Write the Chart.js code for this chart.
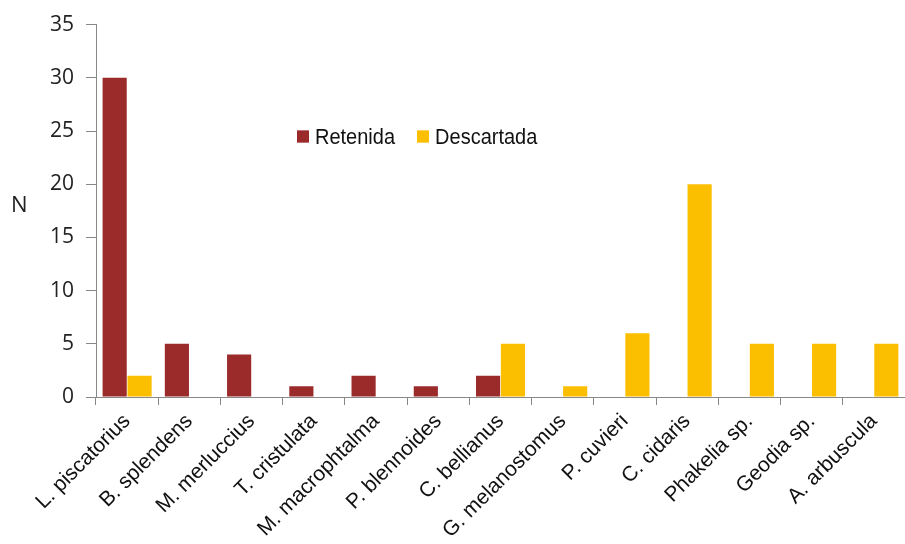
<!DOCTYPE html>
<html>
<head>
<meta charset="utf-8">
<script src="https://cdn.jsdelivr.net/npm/chart.js@4"></script>
<style>
  html, body { margin: 0; padding: 0; background: #fff; }
  #wrap { position: relative; width: 905px; height: 544px; }
  #legend {
    position: absolute; left: 297px; top: 125px;
    font-family: "Liberation Sans", Arial, sans-serif; font-size: 20px; color: #111;
    display: flex; align-items: center;
    transform: scaleY(1.12); transform-origin: left center;
  }
  #legend span.sw { display: inline-block; width: 12px; height: 11px; margin-right: 6px; }
  #legend span.item { display: flex; align-items: center; margin-right: 22px; }
</style>
</head>
<body>
<div id="wrap">
  <canvas id="chart" width="905" height="544"></canvas>
  <div id="legend"></div>
</div>
<script>
const species = [
  "L. piscatorius", "B. splendens", "M. merluccius", "T. cristulata",
  "M. macrophtalma", "P. blennoides", "C. bellianus", "G. melanostomus",
  "P. cuvieri", "C. cidaris", "Phakelia sp.", "Geodia sp.", "A. arbuscula"
];
const retenida   = [30, 5, 4, 1, 2, 1, 2, 0, 0, 0, 0, 0, 0];
const descartada = [2, 0, 0, 0, 0, 0, 5, 1, 6, 20, 5, 5, 5];
const yTicks = [0, 5, 10, 15, 20, 25, 30, 35];

const colors = { Retenida: "#9b2a2b", Descartada: "#fcbf00" };

// draws the unrotated "N" axis title on the left
const yTitle = {
  id: "yTitle",
  afterDraw(chart) {
    const c = chart.ctx;
    c.save();
    c.font = '22px "Open Sans", sans-serif';
    c.fillStyle = "#222";
    c.textBaseline = "middle";
    c.fillText("N", 11, 206);
    c.restore();
  }
};

const chart = new Chart(document.getElementById("chart").getContext("2d"), {
  type: "bar",
  data: {
    labels: species,
    datasets: [
      { label: "Retenida", data: retenida, backgroundColor: colors.Retenida },
      { label: "Descartada", data: descartada, backgroundColor: colors.Descartada }
    ]
  },
  options: {
    responsive: false,
    animation: false,
    layout: { padding: { top: 11, right: 0, left: 0, bottom: 0 } },
    datasets: { bar: { categoryPercentage: 0.8, barPercentage: 0.97 } },
    scales: {
      x: {
        grid: { offset: true, drawOnChartArea: false, tickLength: 8, color: "#888" },
        border: { color: "#888" },
        ticks: {
          maxRotation: 45, minRotation: 45, autoSkip: false, padding: 4,
          color: "#111", font: { family: '"Liberation Sans", Arial, sans-serif', size: 21 }
        },
        afterFit(scale) { scale.height = 147; }
      },
      y: {
        min: 0, max: 35,
        afterBuildTicks(scale) { scale.ticks = yTicks.map(v => ({ value: v })); },
        grid: { drawOnChartArea: false, tickLength: 10, color: "#888" },
        border: { color: "#888" },
        ticks: {
          padding: 12, color: "#222",
          font: { family: '"Open Sans", sans-serif', size: 21 }
        },
        afterFit(scale) { scale.width = 96; }
      }
    },
    plugins: {
      legend: { display: false },
      tooltip: { enabled: false }
    }
  },
  plugins: [yTitle]
});

// HTML legend from the datasets
const legendDiv = document.getElementById("legend");
chart.data.datasets.forEach(ds => {
  const item = document.createElement("span");
  item.className = "item";
  const sw = document.createElement("span");
  sw.className = "sw";
  sw.style.background = ds.backgroundColor;
  item.appendChild(sw);
  item.appendChild(document.createTextNode(ds.label));
  legendDiv.appendChild(item);
});
</script>
</body>
</html>
